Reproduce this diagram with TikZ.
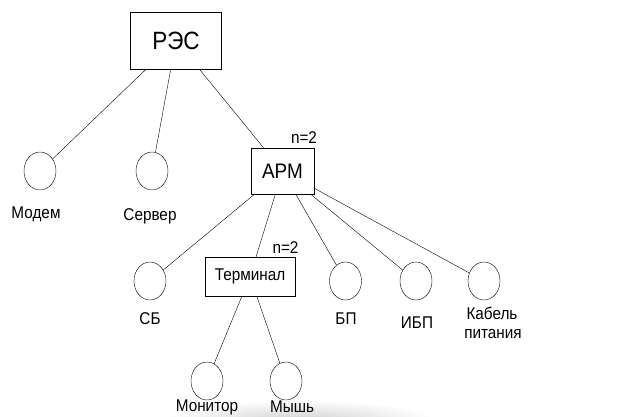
\documentclass[tikz,border=0pt]{standalone}
\usepackage{fontspec}
\setmainfont{Liberation Sans}[FakeStretch=0.9]
\usetikzlibrary{shapes.geometric, positioning}

\begin{document}
\begin{tikzpicture}[x=1pt, y=-1pt,
    unit/.style={draw, inner sep=0pt},
    part/.style={ellipse, draw, minimum width=32pt, minimum height=38pt, inner sep=0pt},
    lbl/.style={inner sep=0pt, anchor=base, font=\fontsize{17}{19}\selectfont}]
    \useasboundingbox (0,0) rectangle (622,416);
    % scan shadow at the bottom
    \shade[inner color=black!18, outer color=white, draw=none] (300,420) ellipse (135 and 20);
    % boxes
    \node[unit, minimum width=91pt, minimum height=57pt, font=\fontsize{25}{27}\selectfont] (res) at (176,40.5) {РЭС};
    \node[unit, minimum width=63pt, minimum height=46pt, font=\fontsize{21}{23}\selectfont] (arm) at (282.5,171) {АРМ};
    \node[unit, minimum width=90pt, minimum height=39pt, font=\fontsize{17}{19}\selectfont] (term) at (250,276.5) {Терминал};
    % circles
    \node[part] (modem) at (40,171) {};
    \node[part] (server) at (152,171) {};
    \node[part] (sb) at (150,281) {};
    \node[part] (bp) at (345.5,281) {};
    \node[part] (ibp) at (416,281) {};
    \node[part] (cable) at (484,281) {};
    \node[part] (monitor) at (207,381) {};
    \node[part] (mouse) at (286,381) {};
    % texts
    \node[lbl] (modemtxt) at (36,218) {Модем};
    \node[lbl] (servertxt) at (150,220) {Сервер};
    \node[lbl] (sbtxt) at (150,324) {СБ};
    \node[lbl] (bptxt) at (346,324) {БП};
    \node[lbl] (ibptxt) at (417,328) {ИБП};
    \node[lbl] (cabletxt) at (492,319) {Кабель};
    \node[lbl] (cabletxtb) at (493,338) {питания};
    \node[lbl] (monitortxt) at (207,411) {Монитор};
    \node[lbl] (mousetxt) at (292,412) {Мышь};
    \node[lbl, anchor=center] (narm) at (304,137.5) {n=2};
    \node[lbl, anchor=center] (nterm) at (285.5,247.5) {n=2};
    % links
    \draw (res) -- (modem);
    \draw (res) -- (server);
    \draw (res) -- (arm);
    \draw (arm) -- (sb);
    \draw (arm) -- (term);
    \draw (arm) -- (bp);
    \draw (arm) -- (ibp);
    \draw (arm) -- (cable);
    \draw (term) -- (monitor);
    \draw (term) -- (mouse);
\end{tikzpicture}
\end{document}
